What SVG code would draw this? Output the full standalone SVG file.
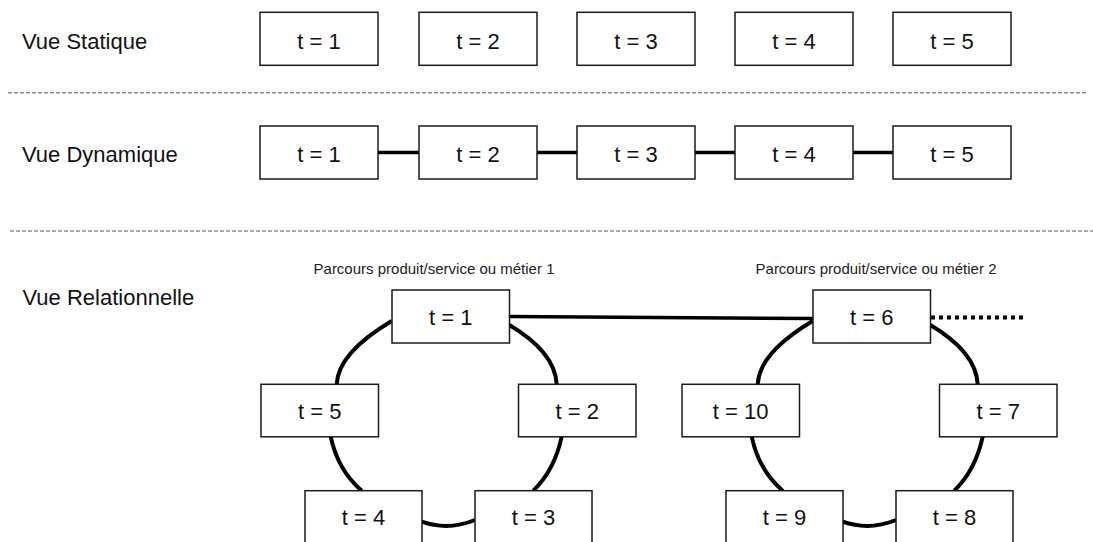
<svg xmlns="http://www.w3.org/2000/svg" width="1093" height="542" viewBox="0 0 1093 542">
<style>
.bg{fill:#ffffff}
.box{fill:#ffffff;stroke:#1a1a1a;stroke-width:1.5}
.lbl{font-family:"Liberation Sans",Arial,sans-serif;font-size:22px;fill:#111}
.t{font-family:"Liberation Sans",Arial,sans-serif;font-size:22px;fill:#111;text-anchor:middle}
.sub{font-family:"Liberation Sans",Arial,sans-serif;font-size:15px;fill:#222;text-anchor:middle}
.sep{stroke:#555;stroke-width:1;stroke-dasharray:4 2;fill:none}
.link{stroke:#000;stroke-width:3.5;fill:none}
.ring{stroke:#000;stroke-width:4;fill:none}
.dots{stroke:#000;stroke-width:4;stroke-dasharray:4 4;fill:none}
</style>
<defs>
<g id="ringArcs">
<path class="ring" d="M391.7,321 Q338,353 336.7,384.3"/>
<path class="ring" d="M330.7,436.7 Q337.8,470.3 361.7,490.7"/>
<path class="ring" d="M421.7,521.7 Q448,531 475,520"/>
<path class="ring" d="M533.3,490.7 Q554.5,470.3 561.7,436.7"/>
<path class="ring" d="M556.7,384.3 Q555,352 509.3,325"/>
</g>
</defs>
<rect class="bg" x="0" y="0" width="1093" height="542"/>

<g id="section-labels">
<text class="lbl" x="22" y="48.5">Vue Statique</text>
<text class="lbl" x="22" y="161.5">Vue Dynamique</text>
<text class="lbl" x="22.5" y="305">Vue Relationnelle</text>
<text class="sub" x="434" y="274.3">Parcours produit/service ou métier 1</text>
<text class="sub" x="876" y="274.3">Parcours produit/service ou métier 2</text>
</g>

<g id="separators">
<line class="sep" x1="8" y1="92.8" x2="1087" y2="92.8"/>
<line class="sep" x1="10" y1="231" x2="1093" y2="231"/>
</g>

<g id="connectors">
<line class="link" x1="378" y1="152.5" x2="419" y2="152.5"/>
<line class="link" x1="537" y1="152.5" x2="577" y2="152.5"/>
<line class="link" x1="695" y1="152.5" x2="735" y2="152.5"/>
<line class="link" x1="853" y1="152.5" x2="893" y2="152.5"/>
<use href="#ringArcs"/>
<use href="#ringArcs" transform="translate(421,0)"/>
<line class="link" x1="509.5" y1="316.5" x2="813" y2="318.5"/>
<line class="dots" x1="931" y1="317.5" x2="1027" y2="317.5"/>
</g>

<g id="static-t1"><rect class="box" x="260" y="12.3" width="118" height="53"/><text class="t" x="319" y="48.5">t = 1</text></g>
<g id="static-t2"><rect class="box" x="419" y="12.3" width="118" height="53"/><text class="t" x="478" y="48.5">t = 2</text></g>
<g id="static-t3"><rect class="box" x="577" y="12.3" width="118" height="53"/><text class="t" x="636" y="48.5">t = 3</text></g>
<g id="static-t4"><rect class="box" x="735" y="12.3" width="118" height="53"/><text class="t" x="794" y="48.5">t = 4</text></g>
<g id="static-t5"><rect class="box" x="893" y="12.3" width="118" height="53"/><text class="t" x="952" y="48.5">t = 5</text></g>

<g id="dyn-t1"><rect class="box" x="260" y="126" width="118" height="53"/><text class="t" x="319" y="161.5">t = 1</text></g>
<g id="dyn-t2"><rect class="box" x="419" y="126" width="118" height="53"/><text class="t" x="478" y="161.5">t = 2</text></g>
<g id="dyn-t3"><rect class="box" x="577" y="126" width="118" height="53"/><text class="t" x="636" y="161.5">t = 3</text></g>
<g id="dyn-t4"><rect class="box" x="735" y="126" width="118" height="53"/><text class="t" x="794" y="161.5">t = 4</text></g>
<g id="dyn-t5"><rect class="box" x="893" y="126" width="118" height="53"/><text class="t" x="952" y="161.5">t = 5</text></g>

<g id="rel-t1"><rect class="box" x="392" y="290" width="117.5" height="53"/><text class="t" x="450.7" y="325">t = 1</text></g>
<g id="rel-t2"><rect class="box" x="518.5" y="384.3" width="117.5" height="52.5"/><text class="t" x="577.2" y="418.5">t = 2</text></g>
<g id="rel-t3"><rect class="box" x="475" y="490.7" width="117" height="53"/><text class="t" x="533.5" y="525">t = 3</text></g>
<g id="rel-t4"><rect class="box" x="305" y="490.7" width="117" height="53"/><text class="t" x="363.5" y="525">t = 4</text></g>
<g id="rel-t5"><rect class="box" x="261" y="384.3" width="117.5" height="52.5"/><text class="t" x="319.7" y="418.5">t = 5</text></g>

<g id="rel-t6"><rect class="box" x="813" y="290" width="117.5" height="53"/><text class="t" x="871.7" y="325">t = 6</text></g>
<g id="rel-t7"><rect class="box" x="939.5" y="384.3" width="117.5" height="52.5"/><text class="t" x="998.2" y="418.5">t = 7</text></g>
<g id="rel-t8"><rect class="box" x="896" y="490.7" width="117" height="53"/><text class="t" x="954.5" y="525">t = 8</text></g>
<g id="rel-t9"><rect class="box" x="726" y="490.7" width="117" height="53"/><text class="t" x="784.5" y="525">t = 9</text></g>
<g id="rel-t10"><rect class="box" x="682" y="384.3" width="117.5" height="52.5"/><text class="t" x="740.7" y="418.5">t = 10</text></g>
</svg>
